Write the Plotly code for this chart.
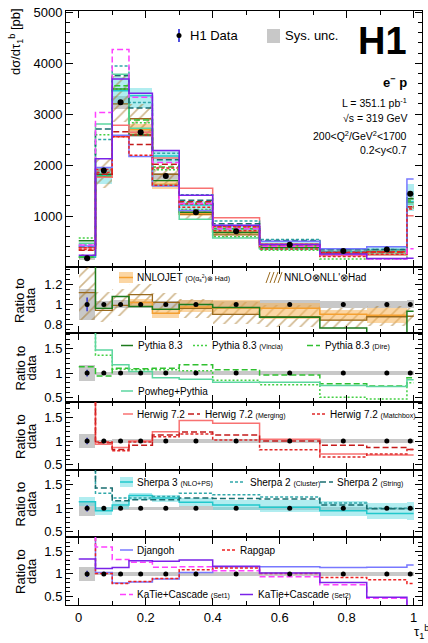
import plotly.graph_objects as go

# ---------------- data ----------------
edges = [0.0, 0.05, 0.10, 0.15, 0.22, 0.30, 0.40, 0.54, 0.72, 0.86, 0.98, 1.00]
data = [172, 1895, 3235, 2645, 1785, 1075, 700, 435, 315, 345, 1440]
stat_rel = [0.07, 0.012, 0.01, 0.01, 0.01, 0.012, 0.012, 0.015, 0.02, 0.02, 0.02]
sys_rel = [0.16, 0.03, 0.04, 0.035, 0.035, 0.04, 0.035, 0.045, 0.035, 0.035, 0.04]

# ratios to data
nnlojet = [None, None, None, 1.02, 0.91, 0.975, 0.965, 0.96, 0.90, 0.89, None]
nnlojet_lo = [None, None, None, 0.97, 0.86, 0.925, 0.89, 0.85, 0.83, 0.81, None]
nnlojet_hi = [None, None, None, 1.06, 0.96, 1.05, 1.04, 1.01, 0.94, 0.96, None]
nnll = [1.12, 0.94, 0.99, 1.10, 1.02, 0.96, 0.90, 0.875, 0.84, 0.875, 0.88]
nnll_lo = [0.84, 0.82, 0.88, 0.98, 0.90, 0.86, 0.80, 0.77, 0.76, 0.78, 0.80]
nnll_hi = [1.50, 1.13, 1.16, 1.21, 1.12, 1.06, 1.02, 0.99, 0.96, 0.98, 0.96]

pythia = [3.0, 0.96, 1.08, 0.98, 0.95, 1.00, 0.97, 0.87, 0.76, 0.71, 0.93]
vincia = [3.3, 1.37, 1.08, 1.07, 1.07, 1.05, 0.85, 0.76, 0.50, 0.46, 0.80]
dire = [1.13, 0.94, 1.10, 1.09, 1.10, 1.17, 1.07, 0.96, 0.78, 0.73, 0.90]
powheg = [2.7, 1.48, 1.17, 1.03, 0.90, 0.87, 0.81, 0.81, 0.74, 0.72, 0.86]

herwig = [2.2, 0.93, 0.86, 1.00, 1.20, 1.44, 1.38, 1.04, 0.72, 0.70, 0.70]
herwig_merg = [1.9, 0.96, 0.82, 0.91, 1.13, 1.19, 1.13, 1.00, 0.91, 0.86, 0.82]
herwig_mbox = [2.0, 0.98, 0.79, 0.98, 1.09, 1.15, 1.02, 0.81, 0.66, 0.72, 0.82]

sherpa3 = [1.14, 0.95, 1.07, 1.27, 1.22, 1.13, 1.07, 1.02, 0.95, 0.89, 0.89]
sherpa3_lo = [1.05, 0.86, 0.98, 1.18, 1.14, 1.04, 0.96, 0.92, 0.83, 0.78, 0.76]
sherpa3_hi = [1.24, 1.03, 1.15, 1.33, 1.28, 1.21, 1.18, 1.17, 1.15, 1.12, 1.13]
sherpa2_cl = [2.5, 1.32, 1.22, 1.22, 1.25, 1.32, 1.29, 1.24, 1.11, 1.00, 1.00]
sherpa2_st = [2.3, 1.43, 1.16, 1.18, 1.18, 1.22, 1.21, 1.20, 1.07, 0.99, 0.99]

djangoh = [2.4, 1.03, 0.80, 0.82, 0.89, 1.03, 1.16, 1.16, 1.14, 1.15, 1.20]
rapgap = [2.2, 1.01, 0.79, 0.83, 0.90, 1.09, 1.13, 1.01, 0.92, 0.87, 0.79]
katie1 = [2.5, 1.60, 1.32, 1.26, 1.15, 1.16, 1.07, 0.94, 0.76, 0.46, 0.25]
katie2 = [1.33, 1.12, 1.14, 1.29, 1.28, 1.31, 1.17, 1.02, 0.81, 0.48, 0.12]

x_ticks = [0, 0.2, 0.4, 0.6, 0.8, 1.0]
x_ticklabels = ["0", "0.2", "0.4", "0.6", "0.8", "1"]

# ---------------- geometry helpers ----------------
W, H = 428, 643
ML, MR, MT, MB = 66, 6, 11, 38
PW, PH = W - ML - MR, H - MT - MB
bounds = [11, 267, 333, 402, 470, 537, 605]


def xp(px):
    return (px - ML) / PW


def yp(py):
    return (H - MB - py) / PH


domains = [[yp(bounds[i + 1]), yp(bounds[i])] for i in range(6)]
yranges = [[0, 5025], [0.71, 1.38], [0.40, 1.83], [0.379, 1.835], [0.389, 1.815], [0.31, 1.82]]
xrange_ = [-0.038, 1.025]

centers = [(edges[i] + edges[i + 1]) / 2 for i in range(len(data))]
widths = [edges[i + 1] - edges[i] for i in range(len(data))]

FONT = "Liberation Sans, Arial, sans-serif"

fig = go.Figure()


def ax(k):
    return ("x" if k == 1 else f"x{k}"), ("y" if k == 1 else f"y{k}")


def step_xy(vals, scale):
    idx = [i for i, v in enumerate(vals) if v is not None]
    i0, i1 = idx[0], idx[-1]
    ys = [vals[i] * scale[i] for i in range(i0, i1 + 1)]
    xs = edges[i0:i1 + 2]
    return xs, ys + [ys[-1]]


def add_step(vals, scale, k, color, dash="solid", width=1.5):
    xs, ys = step_xy(vals, scale)
    xa, ya = ax(k)
    fig.add_trace(go.Scatter(x=xs, y=ys, mode="lines", line=dict(color=color, dash=dash, width=width, shape="hv"),
                             xaxis=xa, yaxis=ya, showlegend=False, hoverinfo="skip"))


def add_band(lo, hi, scale, k, color, pattern=None):
    xa, ya = ax(k)
    xs, b, h, w = [], [], [], []
    for i in range(len(lo)):
        if lo[i] is None:
            continue
        xs.append(centers[i])
        b.append(lo[i] * scale[i])
        h.append((hi[i] - lo[i]) * scale[i])
        w.append(widths[i])
    marker = dict(color=color, line=dict(width=0))
    if pattern:
        marker["pattern"] = pattern
    fig.add_trace(go.Bar(x=xs, y=h, base=b, width=w, marker=marker, xaxis=xa, yaxis=ya,
                         showlegend=False, hoverinfo="skip"))


ones = [1.0] * len(data)
C_HATCH_L = "#9a6a1e"
hatch = dict(shape="/", fgcolor="#a26f1c", bgcolor="rgba(0,0,0,0)", size=8, solidity=0.2, fillmode="overlay")

C_NNLOJET = "#f5a030"
C_NNLOJET_B = "rgba(248,180,90,0.55)"
C_PY = "#1c7a1c"
C_VIN = "#44d044"
C_DIRE = "#30c030"
C_POW = "#5cd6a0"
C_HW = "#f87272"
C_HWM = "#c41a1a"
C_HWB = "#e02828"
C_SH3 = "#22c8cc"
C_SH3_B = "rgba(100,220,225,0.5)"
C_SHC = "#30a8aa"
C_SHS = "#1a6e70"
C_DJ = "#7878ff"
C_RAP = "#ee2020"
C_K1 = "#ff40ff"
C_K2 = "#7a22e8"
C_GRAY = "#c8c8c8"

LD = "6px,3px"
SD = "3px,2px"
DD = "2px,2px"

models = [
    (pythia, C_PY, "solid", 2), (vincia, C_VIN, DD, 3), (dire, C_DIRE, LD, 3), (powheg, C_POW, "solid", 3),
    (herwig, C_HW, "solid", 4), (herwig_merg, C_HWM, LD, 4), (herwig_mbox, C_HWB, SD, 4),
    (sherpa2_cl, C_SHC, SD, 5), (sherpa2_st, C_SHS, LD, 5),
    (djangoh, C_DJ, "solid", 6), (rapgap, C_RAP, SD, 6), (katie1, C_K1, LD, 6), (katie2, C_K2, "solid", 6),
]

# ---- top panel ----
sys_lo = [1 - s for s in sys_rel]
sys_hi = [1 + s for s in sys_rel]
add_band(sys_lo, sys_hi, data, 1, C_GRAY)
add_band(sherpa3_lo, sherpa3_hi, data, 1, C_SH3_B)
add_band(nnlojet_lo, nnlojet_hi, data, 1, C_NNLOJET_B)
add_band(nnll_lo, nnll_hi, data, 1, C_HATCH_L, hatch)
add_step(nnll, data, 1, C_HATCH_L, width=1.3)
add_step(nnlojet, data, 1, C_NNLOJET, width=1.5)
add_step(sherpa3, data, 1, C_SH3, width=1.5)
for vals, col, dash, _ in models:
    add_step(vals, data, 1, col, dash, 1.5)
fig.add_trace(go.Scatter(x=centers, y=data, mode="markers", marker=dict(color="black", size=6),
                         error_y=dict(type="data", array=[d * s for d, s in zip(data, stat_rel)], color="#3030d0",
                                      thickness=1.5, width=0),
                         xaxis="x", yaxis="y", showlegend=False, hoverinfo="skip"))

# ---- ratio panels ----
for k in range(2, 7):
    add_band(sys_lo, sys_hi, ones, k, C_GRAY)
add_band(nnll_lo, nnll_hi, ones, 2, C_HATCH_L, hatch)
add_band(nnlojet_lo, nnlojet_hi, ones, 2, C_NNLOJET_B)
add_step(nnll, ones, 2, C_HATCH_L, width=1.3)
add_step(nnlojet, ones, 2, C_NNLOJET, width=1.5)
add_band(sherpa3_lo, sherpa3_hi, ones, 5, C_SH3_B)
add_step(sherpa3, ones, 5, C_SH3, width=1.5)
for vals, col, dash, k in models:
    add_step(vals, ones, k, col, dash, 1.5)
for k in range(2, 7):
    xa, ya = ax(k)
    fig.add_trace(go.Scatter(x=centers, y=ones, mode="markers", marker=dict(color="black", size=5),
                             error_y=dict(type="data", array=stat_rel, color="#3030d0", thickness=1.5, width=0),
                             xaxis=xa, yaxis=ya, showlegend=False, hoverinfo="skip"))

# ---------------- axes ----------------
layout = dict(width=W, height=H, margin=dict(l=ML, r=MR, t=MT, b=MB), paper_bgcolor="white",
              plot_bgcolor="white", barmode="overlay", bargap=0, showlegend=False,
              font=dict(family=FONT, size=13, color="black"))
ytick_sets = [
    dict(tickvals=[1000, 2000, 3000, 4000, 5000], minor=dict(dtick=200, ticklen=4, ticks="inside", tickcolor="black")),
    dict(tickvals=[0.8, 1, 1.2], ticktext=["0.8", "1", "1.2"], minor=dict(dtick=0.05, ticklen=4, ticks="inside", tickcolor="black")),
] + [dict(tickvals=[0.5, 1, 1.5], ticktext=["0.5", "1", "1.5"], minor=dict(dtick=0.1, ticklen=4, ticks="inside", tickcolor="black"))] * 4

for k in range(1, 7):
    xk = "xaxis" if k == 1 else f"xaxis{k}"
    yk = "yaxis" if k == 1 else f"yaxis{k}"
    layout[xk] = dict(domain=[0, 1], anchor=("y" if k == 1 else f"y{k}"), range=xrange_, showline=True,
                      linecolor="black", linewidth=1, mirror="allticks", ticks="inside", ticklen=7,
                      tickcolor="black", tickvals=x_ticks, ticktext=x_ticklabels, showticklabels=(k == 6),
                      showgrid=False, zeroline=False, tickfont=dict(size=13),
                      minor=dict(dtick=0.1, tick0=0, ticklen=4, ticks="inside", tickcolor="black"),
                      **({} if k == 1 else dict(matches="x")))
    layout[yk] = dict(domain=domains[k - 1], anchor=("x" if k == 1 else f"x{k}"), range=yranges[k - 1],
                      showline=True, linecolor="black", linewidth=1, mirror="allticks", ticks="inside",
                      ticklen=7, tickcolor="black", showgrid=False, zeroline=False, tickfont=dict(size=13),
                      **ytick_sets[k - 1])
fig.update_layout(**layout)

# ---------------- annotations / legend symbols ----------------
ann = []
shapes = []


def text(px, py, s, size=11, xanchor="left", angle=0, bold=False):
    if bold:
        s = f"<b>{s}</b>"
    ann.append(dict(x=xp(px), y=yp(py), xref="paper", yref="paper", text=s, showarrow=False,
                    xanchor=xanchor, yanchor="middle", textangle=angle, font=dict(size=size, family=FONT)))


def hline(x0, x1, py, color, dash="solid", width=1.5):
    shapes.append(dict(type="line", xref="paper", yref="paper", x0=xp(x0), x1=xp(x1), y0=yp(py), y1=yp(py),
                       line=dict(color=color, dash=dash, width=width)))


def rect(x0, x1, y0, y1, color):
    shapes.append(dict(type="rect", xref="paper", yref="paper", x0=xp(x0), x1=xp(x1), y0=yp(y1), y1=yp(y0),
                       fillcolor=color, line=dict(width=0)))


def seg(x0, y0, x1, y1, color, width=1):
    shapes.append(dict(type="line", xref="paper", yref="paper", x0=xp(x0), x1=xp(x1), y0=yp(y0), y1=yp(y1),
                       line=dict(color=color, width=width)))


small = lambda s: f"<span style='font-size:7px'>{s}</span>"

# axis titles
text(16, 42, "dσ/dτ<sub>1</sub><sup>b</sup> [pb]", size=13, xanchor="center", angle=-90)
for k in range(1, 6):
    cy = (bounds[k] + bounds[k + 1]) / 2
    text(20, cy, "Ratio to", size=13, xanchor="center", angle=-90)
    text(31, cy, "data", size=13, xanchor="center", angle=-90)
text(421, 632, "τ<sub>1</sub><sup>b</sup>", size=13, xanchor="center")

# top legend
seg(179, 29, 179, 42, "#5050e0", 2)
shapes.append(dict(type="circle", xref="paper", yref="paper", x0=xp(176.5), x1=xp(181.5), y0=yp(38), y1=yp(33),
                   fillcolor="black", line=dict(width=0)))
text(188, 35, "H1 Data", size=13)
rect(267, 280, 29, 43, C_GRAY)
text(283, 35, "Sys. unc.", size=13)
text(409, 41, "H1", size=38, xanchor="right", bold=True)
text(409, 82, "e<sup>−</sup> p", size=13, xanchor="right", bold=True)
text(409, 103, "L = 351.1 pb<sup>-1</sup>", size=10.5, xanchor="right")
text(409, 118, "√s = 319 GeV", size=10.5, xanchor="right")
text(409, 135, "200&lt;Q<sup>2</sup>/GeV<sup>2</sup>&lt;1700", size=10.5, xanchor="right")
text(409, 150, "0.2&lt;y&lt;0.7", size=10.5, xanchor="right")

LS = 10  # legend font size
# panel 1
rect(119, 133, 272, 283, C_NNLOJET_B)
hline(119, 133, 277.5, C_NNLOJET)
text(135, 277.5, "NNLOJET " + small("(O(α<sub>s</sub><sup>2</sup>)⊗ Had)"), size=LS)
for i in range(4):
    seg(266 + 4 * i, 283, 270 + 4 * i, 272, C_HATCH_L, 1)
text(282, 277.5, "NNLO⊗NLL'⊗Had", size=LS)
# panel 2
hline(121, 133, 345.5, C_PY)
text(136, 345.5, "Pythia 8.3", size=LS)
hline(193, 207, 345.5, C_VIN, DD)
text(210, 345.5, "Pythia 8.3 " + small("(Vincia)"), size=LS)
hline(307, 320, 345.5, C_DIRE, LD)
text(323, 345.5, "Pythia 8.3 " + small("(Dire)"), size=LS)
hline(121, 133, 391, C_POW)
text(136, 391, "Powheg+Pythia", size=LS)
# panel 3
hline(123, 133, 414, C_HW)
text(135, 414, "Herwig 7.2", size=LS)
hline(188, 200, 414, C_HWM, LD)
text(203, 414, "Herwig 7.2 " + small("(Merging)"), size=LS)
hline(312, 325, 414, C_HWB, SD)
text(328, 414, "Herwig 7.2 " + small("(Matchbox)"), size=LS)
# panel 4
rect(120, 133, 477, 487, C_SH3_B)
hline(120, 133, 482, C_SH3)
text(135, 482, "Sherpa 3 " + small("(NLO+PS)"), size=LS)
hline(230, 243, 482, C_SHC, SD)
text(248, 482, "Sherpa 2 " + small("(Cluster)"), size=LS)
hline(320, 333, 482, C_SHS, LD)
text(335, 482, "Sherpa 2 " + small("(String)"), size=LS)
# panel 5
hline(120, 133, 550, C_DJ)
text(135, 550, "Djangoh", size=LS)
hline(222, 235, 550, C_RAP, SD)
text(238, 550, "Rapgap", size=LS)
hline(120, 133, 594.5, C_K1, LD)
text(135, 594.5, "KaTie+Cascade " + small("(Set1)"), size=LS)
hline(240, 253, 594.5, C_K2)
text(256, 594.5, "KaTie+Cascade " + small("(Set2)"), size=LS)

fig.update_layout(annotations=ann, shapes=shapes)
fig.write_html("out.html")
